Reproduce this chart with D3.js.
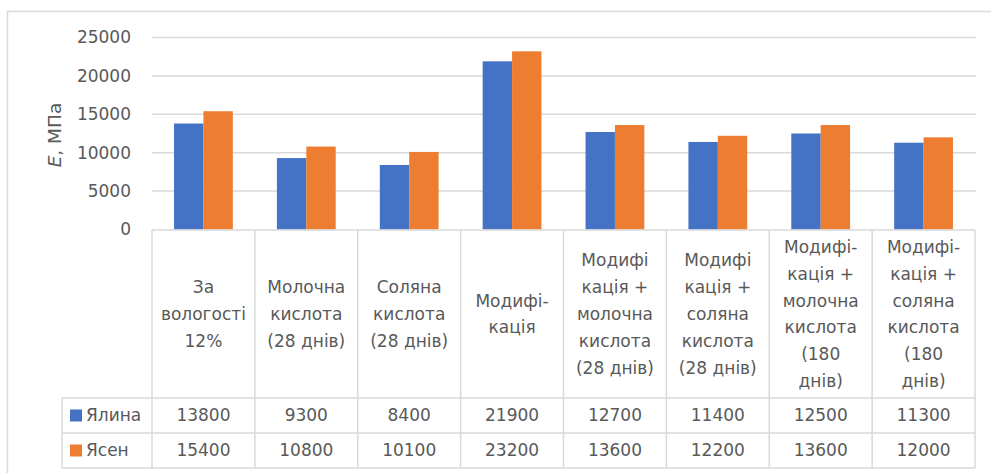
<!DOCTYPE html>
<html>
<head>
<meta charset="utf-8">
<script src="https://cdn.jsdelivr.net/npm/d3@7"></script>
<style>
  html, body { margin: 0; padding: 0; background: #fff; }
  svg text { font-family: "DejaVu Sans", sans-serif; fill: #595959; }
</style>
</head>
<body>
<svg id="chart" width="991" height="473"></svg>
<script>
const categories = [
  ["За", "вологості", "12%"],
  ["Молочна", "кислота", "(28 днів)"],
  ["Соляна", "кислота", "(28 днів)"],
  ["Модифі-", "кація"],
  ["Модифі", "кація +", "молочна", "кислота", "(28 днів)"],
  ["Модифі", "кація +", "соляна", "кислота", "(28 днів)"],
  ["Модифі-", "кація +", "молочна", "кислота", "(180", "днів)"],
  ["Модифі-", "кація +", "соляна", "кислота", "(180", "днів)"]
];
const seriesNames = ["Ялина", "Ясен"];
const yalyna = [13800, 9300, 8400, 21900, 12700, 11400, 12500, 11300];
const yasen = [15400, 10800, 10100, 23200, 13600, 12200, 13600, 12000];
const seriesColors = ["#4472C4", "#ED7D31"];
const yTicks = [0, 5000, 10000, 15000, 20000, 25000];

const series = [yalyna, yasen];
const svg = d3.select("#chart");
const fontSize = 17;
const grid = "#d9d9d9";

// outer border
svg.append("rect").attr("x", 7.5).attr("y", 11.5).attr("width", 1000).attr("height", 500)
  .attr("fill", "none").attr("stroke", grid).attr("stroke-width", 1.5);

const x = d3.scaleBand().domain(d3.range(categories.length)).range([152, 975]).padding(0);
const xs = d3.scaleBand().domain(d3.range(series.length)).range([0, x.bandwidth()])
  .paddingInner(0).paddingOuter(0.75);
const y = d3.scaleLinear().domain([0, 25000]).range([229.5, 37.5]);

// gridlines
svg.append("g").selectAll("line").data(yTicks.filter(d => d > 0)).join("line")
  .attr("x1", 152).attr("x2", 976)
  .attr("y1", d => y(d)).attr("y2", d => y(d))
  .attr("stroke", grid).attr("stroke-width", 1.5);

// y axis
const yAxis = d3.axisLeft(y).tickValues(yTicks).tickSize(0).tickPadding(0).tickFormat(d3.format("d"));
const ya = svg.append("g").attr("transform", "translate(131,0)").call(yAxis);
ya.select(".domain").remove();
ya.selectAll("text").attr("font-size", fontSize).attr("font-family", "DejaVu Sans").attr("fill", "#595959");

// y title
const yt = svg.append("text").attr("transform", "translate(61,135) rotate(-90)")
  .attr("text-anchor", "middle").attr("font-size", 18.5);
yt.append("tspan").attr("font-style", "italic").text("E");
yt.append("tspan").text(", МПа");

// bars
series.forEach((vals, si) => {
  svg.append("g").selectAll("rect").data(vals).join("rect")
    .attr("x", (d, i) => x(i) + xs(si))
    .attr("width", xs.bandwidth())
    .attr("y", d => y(d))
    .attr("height", d => y(0) - y(d))
    .attr("fill", seriesColors[si]);
});

// table
const tTop = 230, tHead = 398, tRow1 = 433, tBot = 468, legLeft = 62;
const tbl = svg.append("g").attr("stroke", grid).attr("stroke-width", 1.5);
[[152, tTop, 975, tTop], [legLeft, tHead, 975, tHead], [legLeft, tRow1, 975, tRow1], [legLeft, tBot, 975, tBot],
 [legLeft, tHead, legLeft, tBot]].forEach(l => {
  tbl.append("line").attr("x1", l[0]).attr("y1", l[1]).attr("x2", l[2]).attr("y2", l[3]);
});
tbl.selectAll(".vl").data(d3.range(categories.length + 1)).join("line").attr("class", "vl")
  .attr("x1", i => i < categories.length ? x(i) : x.range()[1])
  .attr("x2", i => i < categories.length ? x(i) : x.range()[1])
  .attr("y1", tTop).attr("y2", tBot);

// header labels
const lineH = 26.8;
const headMid = (tTop + tHead) / 2;
categories.forEach((lines, i) => {
  const cx = x(i) + x.bandwidth() / 2;
  const t = svg.append("text").attr("text-anchor", "middle").attr("font-size", fontSize);
  lines.forEach((ln, k) => {
    t.append("tspan").attr("x", cx)
      .attr("y", headMid + (k - (lines.length - 1) / 2) * lineH)
      .attr("dy", "0.35em").text(ln);
  });
});

// data rows
const rowMids = [(tHead + tRow1) / 2, (tRow1 + tBot) / 2];
series.forEach((vals, si) => {
  svg.append("g").selectAll("text").data(vals).join("text")
    .attr("x", (d, i) => x(i) + x.bandwidth() / 2)
    .attr("y", rowMids[si]).attr("dy", "0.35em")
    .attr("text-anchor", "middle").attr("font-size", fontSize)
    .text(d => d);
  svg.append("rect").attr("x", 70).attr("y", rowMids[si] - 6).attr("width", 12).attr("height", 12)
    .attr("fill", seriesColors[si]);
  svg.append("text").attr("x", 86).attr("y", rowMids[si]).attr("dy", "0.35em")
    .attr("font-size", fontSize).text(seriesNames[si]);
});
</script>
</body>
</html>
